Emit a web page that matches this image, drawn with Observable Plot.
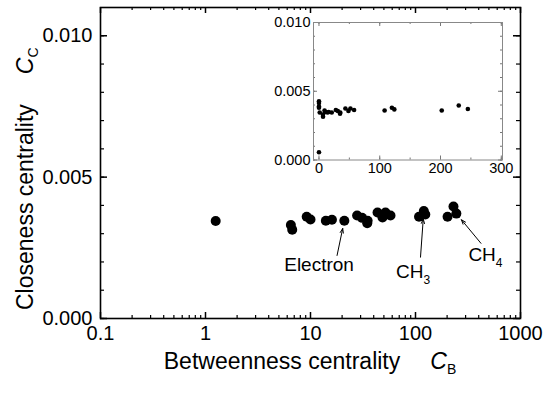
<!DOCTYPE html>
<html><head><meta charset="utf-8">
<script src="https://cdn.jsdelivr.net/npm/d3@7"></script>
<script src="https://cdn.jsdelivr.net/npm/@observablehq/plot@0.6"></script>
<style>
body{margin:0;background:#fff;}
#wrap{position:relative;width:550px;height:393px;}
#wrap svg{position:absolute;}
</style></head><body><div id="wrap"></div>
<script>
// ---- data ----
const betweenness = [0, 0, 0, 0, 0, 1.25, 6.5, 6.7, 9.2, 10, 14, 16, 21, 27.8, 31, 34.7, 35, 43.5, 48.5, 51.8, 57.8, 108, 120, 124, 202, 230, 245];
const closeness = [0.00427, 0.00415, 0.0039, 0.0038, 0.00056, 0.00345, 0.00331, 0.00314, 0.0036, 0.0035, 0.00346, 0.00349, 0.00346, 0.00364, 0.00356, 0.00337, 0.00346, 0.00375, 0.00357, 0.00375, 0.00364, 0.0036, 0.0038, 0.00368, 0.0036, 0.00396, 0.00371];
const xTickValues = [0.1, 1, 10, 100, 1000];
const yTickValues = [0, 0.005, 0.010];
const insetXTickValues = [0, 100, 200, 300];
const insetYTickValues = [0, 0.005, 0.010];
const annoText = ["Electron", "CH", "CH"];
const annoSub = ["", "3", "4"];
const annoX = [12.2, 95.7, 469];
const annoY = [0.00166, 0.00141, 0.00201];
const arrowFromX = [17.9, 111.6, 420];
const arrowFromY = [0.00223, 0.00217, 0.00266];
const arrowToIndex = [12, 22, 26];

// ---- chart ----
const FONT = '"Liberation Sans", Arial, Helvetica, sans-serif';
const pts = betweenness.map((b, i) => ({b, c: closeness[i]}));
const logPts = pts.filter(d => d.b > 0);

const W = 550, H = 393, mL = 100, mR = 30, mT = 7, mB = 75;
const fW = W - mL - mR, fH = H - mT - mB;
const xMinor = [];
for (let i = 0; i < xTickValues.length - 1; i++) for (let k = 2; k <= 9; k++) xMinor.push(xTickValues[i] * k);
const yMinor = d3.range(0, 0.0105, 0.001);

const main = Plot.plot({
  width: W, height: H, marginLeft: mL, marginRight: mR, marginTop: mT, marginBottom: mB,
  x: {type: "log", domain: [0.1, 1000]},
  y: {domain: [0, 0.011]},
  style: {fontFamily: FONT, background: "transparent", color: "black", overflow: "visible"},
  marks: [
    Plot.tickX(xMinor, {x: d => d, insetTop: fH - 3, strokeWidth: 1.2}),
    Plot.tickX(xMinor, {x: d => d, insetBottom: fH - 3, strokeWidth: 1.2}),
    Plot.tickX(xTickValues, {x: d => d, insetTop: fH - 6, strokeWidth: 1.5}),
    Plot.tickX(xTickValues, {x: d => d, insetBottom: fH - 6, strokeWidth: 1.5}),
    Plot.tickY(yMinor, {y: d => d, insetRight: fW - 4, strokeWidth: 1.2}),
    Plot.tickY(yMinor, {y: d => d, insetLeft: fW - 4, strokeWidth: 1.2}),
    Plot.tickY(yTickValues, {y: d => d, insetRight: fW - 7, strokeWidth: 1.5}),
    Plot.tickY(yTickValues, {y: d => d, insetLeft: fW - 7, strokeWidth: 1.5}),
    Plot.axisX(xTickValues, {tickSize: 0, tickPadding: 7, fontSize: 20, tickFormat: d => String(d), label: null}),
    Plot.axisY(yTickValues, {tickSize: 0, tickPadding: 8, fontSize: 20, tickFormat: d3.format(".3f"), label: null}),
    Plot.frame({stroke: "black", strokeWidth: 1.6}),
    Plot.dot(logPts, {x: "b", y: "c", r: 5, fill: "black", stroke: "none"}),
    Plot.arrow(d3.range(arrowFromX.length), {
      x1: i => arrowFromX[i], y1: i => arrowFromY[i],
      x2: i => pts[arrowToIndex[i]].b, y2: i => pts[arrowToIndex[i]].c,
      insetEnd: 8, headLength: 7, headAngle: 40, stroke: "black", strokeWidth: 1
    })
  ]
});

const sx = main.scale("x"), sy = main.scale("y");
const msvg = d3.select(main);
// annotations
annoText.forEach((t, i) => {
  const txt = msvg.append("text")
    .attr("x", sx.apply(annoX[i])).attr("y", sy.apply(annoY[i]))
    .attr("text-anchor", "middle").attr("font-family", FONT).attr("font-size", 19).attr("fill", "black");
  txt.append("tspan").text(t);
  if (annoSub[i]) txt.append("tspan").attr("font-size", 12).attr("dy", 6).text(annoSub[i]);
});
// axis labels
const xl = msvg.append("text").attr("x", mL + fW / 2).attr("y", 369)
  .attr("text-anchor", "middle").attr("font-family", FONT).attr("font-size", 23).attr("fill", "black");
xl.append("tspan").text("Betweenness centrality");
xl.append("tspan").attr("dx", 30).attr("font-style", "italic").text("C");
xl.append("tspan").attr("dy", 5).attr("font-size", 14).text("B");

const yl = msvg.append("text").attr("transform", "translate(33,310) rotate(-90)")
  .attr("text-anchor", "start").attr("font-family", FONT).attr("font-size", 23).attr("fill", "black");
yl.append("tspan").text("Closeness centrality");
yl.append("tspan").attr("dx", 30).attr("font-style", "italic").text("C");
yl.append("tspan").attr("dy", 5).attr("font-size", 14).text("C");

// ---- inset ----
const iW = 260, iH = 180, imL = 48, imR = 23, imT = 12, imB = 30.5;
const ifW = iW - imL - imR, ifH = iH - imT - imB;
const ixMinor = d3.range(0, 301, 50);
const iyMinor = d3.range(0, 0.0105, 0.001);
const inset = Plot.plot({
  width: iW, height: iH, marginLeft: imL, marginRight: imR, marginTop: imT, marginBottom: imB,
  x: {domain: [-9, 302]},
  y: {domain: [0, 0.010]},
  style: {fontFamily: FONT, background: "transparent", color: "black", overflow: "visible"},
  marks: [
    Plot.frame({fill: "white", stroke: "none"}),
    Plot.tickX(ixMinor, {x: d => d, insetTop: ifH - 2, stroke: "#777"}),
    Plot.tickX(ixMinor, {x: d => d, insetBottom: ifH - 2, stroke: "#777"}),
    Plot.tickX(insetXTickValues, {x: d => d, insetTop: ifH - 4, stroke: "#777"}),
    Plot.tickX(insetXTickValues, {x: d => d, insetBottom: ifH - 4, stroke: "#777"}),
    Plot.tickY(iyMinor, {y: d => d, insetRight: ifW - 2, stroke: "#777"}),
    Plot.tickY(iyMinor, {y: d => d, insetLeft: ifW - 2, stroke: "#777"}),
    Plot.tickY(insetYTickValues, {y: d => d, insetRight: ifW - 4, stroke: "#777"}),
    Plot.tickY(insetYTickValues, {y: d => d, insetLeft: ifW - 4, stroke: "#777"}),
    Plot.axisX(insetXTickValues, {tickSize: 0, tickPadding: 3, fontSize: 14.5, tickFormat: d => String(d), label: null}),
    Plot.axisY(insetYTickValues, {tickSize: 0, tickPadding: 3, fontSize: 14.5, tickFormat: d3.format(".3f"), label: null}),
    Plot.frame({stroke: "#888", strokeWidth: 1}),
    Plot.dot(pts, {x: "b", y: "c", r: 2.3, fill: "black", stroke: "none"})
  ]
});

const wrap = document.getElementById("wrap");
main.style.left = "0px"; main.style.top = "0px";
inset.style.left = "265px"; inset.style.top = "10px";
wrap.appendChild(main);
wrap.appendChild(inset);
</script>
</body></html>
